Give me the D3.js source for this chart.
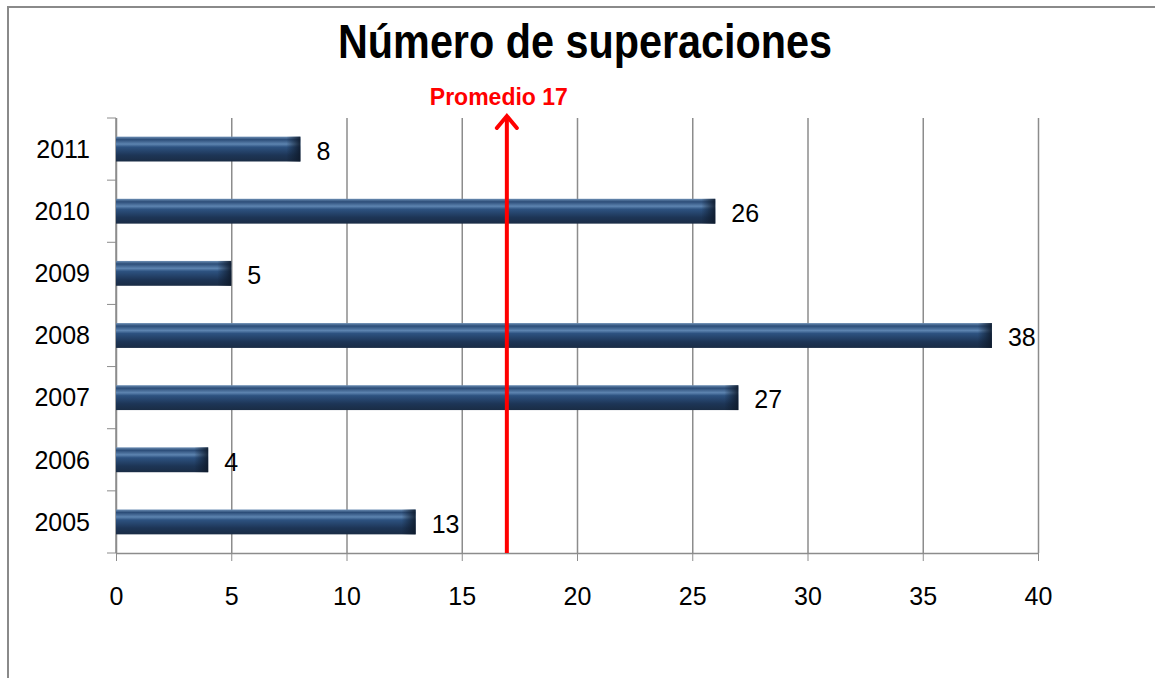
<!DOCTYPE html>
<meta charset="utf-8">
<style>
  body { margin: 0; background: #fff; }
  .axis text { font-family: "Liberation Sans", Arial, sans-serif; font-size: 25px; fill: #000; }
  .axis path, .axis line { stroke: #8c8c8c; }
  .grid line { stroke: #8c8c8c; stroke-width: 1.5; }
  .grid path { display: none; }
  .label { font-family: "Liberation Sans", Arial, sans-serif; font-size: 25px; }
</style>
<svg width="1155" height="678"></svg>
<script src="https://d3js.org/d3.v7.min.js"></script>
<script>
  var years = ["2005", "2006", "2007", "2008", "2009", "2010", "2011"];
  var values = [13, 4, 27, 38, 5, 26, 8];
  var xTicks = [0, 5, 10, 15, 20, 25, 30, 35, 40];
  var average = 17;
  var title = "Número de superaciones";
  var avgLabel = "Promedio 17";

  var data = years.map(function(y, i) { return { year: y, value: values[i] }; });

  var svg = d3.select("svg"),
    margin = { top: 118, right: 117, bottom: 125, left: 116 },
    width = +svg.attr("width") - margin.left - margin.right,
    height = +svg.attr("height") - margin.top - margin.bottom;

  // frame (left + top only)
  svg.append("path")
    .attr("d", "M8,678 V7 H1155")
    .attr("fill", "none")
    .attr("stroke", "#8a8a8a")
    .attr("stroke-width", 2);

  svg.append("text")
    .attr("x", 585)
    .attr("y", 58)
    .attr("text-anchor", "middle")
    .attr("textLength", 494)
    .attr("lengthAdjust", "spacingAndGlyphs")
    .style("font-family", "'Liberation Sans Narrow', 'Arial Narrow', 'Liberation Sans', sans-serif")
    .style("font-weight", "bold")
    .style("font-size", "48px")
    .text(title);

  var defs = svg.append("defs");
  var grad = defs.append("linearGradient")
    .attr("id", "barGrad")
    .attr("x1", 0).attr("y1", 0).attr("x2", 0).attr("y2", 1);
  [[0, "#6d8fb5"], [0.12, "#2c4d78"], [0.3, "#5d84b0"], [0.42, "#2d5280"], [0.75, "#1d3556"], [1, "#1a2c45"]]
    .forEach(function(s) { grad.append("stop").attr("offset", s[0]).attr("stop-color", s[1]); });
  var endGrad = defs.append("linearGradient")
    .attr("id", "endGrad")
    .attr("x1", 0).attr("y1", 0).attr("x2", 1).attr("y2", 0);
  endGrad.append("stop").attr("offset", 0).attr("stop-color", "#0e1a2b").attr("stop-opacity", 0);
  endGrad.append("stop").attr("offset", 1).attr("stop-color", "#0e1a2b").attr("stop-opacity", 0.9);

  var x = d3.scaleLinear().domain([0, 40]).range([0, width]),
    y = d3.scaleBand().domain(years.slice().reverse()).range([0, height]).paddingInner(0.6).paddingOuter(0.3);

  var g = svg.append("g")
    .attr("transform", "translate(" + margin.left + "," + margin.top + ")");

  // vertical gridlines
  g.append("g")
    .attr("class", "grid")
    .call(d3.axisBottom(x).tickValues(xTicks).tickSize(height).tickFormat(""))
    .select(".domain").remove();

  g.append("g")
    .attr("class", "axis axis--x")
    .attr("transform", "translate(0," + height + ")")
    .call(d3.axisBottom(x).tickValues(xTicks).tickSizeInner(8).tickSizeOuter(0).tickPadding(26))
    .call(function(a) { a.select(".domain").attr("stroke-width", 1.5); });

  // y axis with ticks between categories
  var yAxisG = g.append("g").attr("class", "axis axis--y");
  yAxisG.append("line").attr("x1", 0).attr("x2", 0).attr("y1", 0).attr("y2", height).attr("stroke-width", 1.5);
  var step = y.step();
  d3.range(years.length + 1).forEach(function(i) {
    var yy = y(years[years.length - 1]) - y.paddingOuter() * step + i * step;
    yAxisG.append("line").attr("x1", -9).attr("x2", 0).attr("y1", yy).attr("y2", yy);
  });
  yAxisG.selectAll(".ylab")
    .data(years)
    .enter().append("text")
    .attr("class", "ylab")
    .attr("x", -26)
    .attr("y", function(d) { return y(d) + y.bandwidth() / 2; })
    .attr("dy", "0.35em")
    .attr("text-anchor", "end")
    .text(function(d) { return d; });

  var bars = g.selectAll(".bar").data(data).enter().append("g").attr("class", "bar");
  bars.append("rect")
    .attr("x", 0)
    .attr("y", function(d) { return y(d.year); })
    .attr("width", function(d) { return x(d.value); })
    .attr("height", y.bandwidth())
    .attr("fill", "url(#barGrad)");
  bars.append("rect")
    .attr("x", function(d) { return x(d.value) - 14; })
    .attr("y", function(d) { return y(d.year); })
    .attr("width", 14)
    .attr("height", y.bandwidth())
    .attr("fill", "url(#endGrad)");

  g.selectAll(".label")
    .data(data)
    .enter().append("text")
    .attr("class", "label")
    .attr("x", function(d) { return x(d.value) + 16; })
    .attr("y", function(d) { return y(d.year) + y.bandwidth() / 2 + 2; })
    .attr("dy", "0.35em")
    .text(function(d) { return d.value; });

  // average arrow
  var ax = x(average) - 1;
  g.append("line")
    .attr("x1", ax).attr("x2", ax)
    .attr("y1", height).attr("y2", -2)
    .attr("stroke", "#ff0000")
    .attr("stroke-width", 4);
  g.append("path")
    .attr("d", "M" + (ax - 10) + "," + 10 + " L" + ax + "," + (-2) + " L" + (ax + 10) + "," + 10)
    .attr("fill", "none")
    .attr("stroke", "#ff0000")
    .attr("stroke-width", 4)
    .attr("stroke-linecap", "round");
  g.append("text")
    .attr("x", ax - 8)
    .attr("y", -13)
    .attr("text-anchor", "middle")
    .style("font-family", "'Liberation Sans', Arial, sans-serif")
    .style("font-weight", "bold")
    .style("font-size", "23px")
    .attr("fill", "#ff0000")
    .text(avgLabel);
</script>
